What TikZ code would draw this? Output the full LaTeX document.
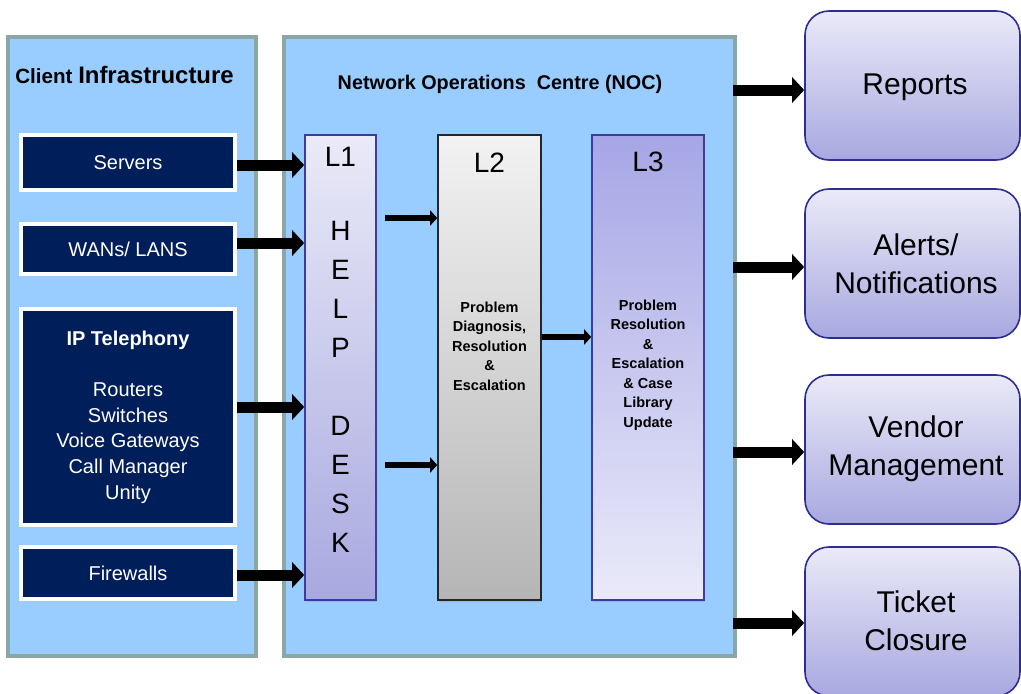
\documentclass[tikz,border=0pt]{standalone}
\usepackage{fontspec}
\setmainfont{Liberation Sans}
\usetikzlibrary{arrows.meta,shadows}

\definecolor{panelfill}{RGB}{153,204,255}
\definecolor{panelline}{RGB}{140,165,165}
\definecolor{navy}{RGB}{0,30,90}
\definecolor{tierline}{RGB}{60,60,160}
\definecolor{outline}{RGB}{46,46,144}
\definecolor{lavtop}{RGB}{234,234,248}
\definecolor{lavbot}{RGB}{168,168,224}
\definecolor{l3top}{RGB}{166,166,230}
\definecolor{l3bot}{RGB}{234,234,250}

\begin{document}
\begin{tikzpicture}[x=1pt,y=-1pt,
  panel/.style={draw=panelline, line width=4pt, fill=panelfill, inner sep=0pt},
  devbox/.style={draw=white, line width=3.5pt, fill=navy, text=white, inner sep=0pt,
    align=center, font=\fontsize{20}{25.7}\selectfont,
    drop shadow={shadow xshift=1pt, shadow yshift=-2pt, opacity=0.3}},
  tier/.style={line width=1.6pt, inner sep=0pt,
    drop shadow={shadow xshift=1pt, shadow yshift=-2pt, opacity=0.3}},
  tierlabel/.style={font=\fontsize{28}{28}\selectfont, inner sep=0pt},
  tiertext/.style={font=\bfseries\fontsize{14.5}{19.5}\selectfont, align=center, inner sep=0pt},
  outbox/.style={draw=outline, line width=1.6pt, rounded corners=24pt,
    top color=lavtop, bottom color=lavbot, inner sep=0pt,
    minimum width=215pt, minimum height=149pt},
  outtext/.style={font=\fontsize{30}{38}\selectfont, align=center, inner sep=0pt},
  bigarrow/.style={line width=11pt, -{Triangle[length=12pt,width=25pt]}},
  smallarrow/.style={line width=6pt, -{Triangle[length=7pt,width=15pt]}}
]
\useasboundingbox (0,0) rectangle (1021,694);
\fill[white] (0,0) rectangle (1021,694);
\clip (0,0) rectangle (1021,694);

% the two background panels
\node[panel, minimum width=248pt, minimum height=619pt] (client) at (132,346.5) {};
\node[panel, minimum width=451pt, minimum height=619pt] (noc) at (509.5,346.5) {};
\node[inner sep=0pt] (clienttitle) at (124.5,75)
  {\bfseries\fontsize{20.6}{20.6}\selectfont Client \fontsize{23.9}{23.9}\selectfont Infrastructure};
\node[inner sep=0pt] (noctitle) at (500,84)
  {\bfseries\fontsize{19.8}{19.8}\selectfont Network Operations\ \ Centre (NOC)};

% client devices
\node[devbox, minimum width=214pt, minimum height=55pt] (servers) at (128,162.5) {Servers};
\node[devbox, minimum width=214pt, minimum height=50pt] (wans) at (128,249) {WANs/ LANS};
\node[devbox, minimum width=214pt, minimum height=216pt] (ipt) at (128,417)
  {\textbf{IP Telephony}\\ \\Routers\\Switches\\Voice Gateways\\Call Manager\\Unity};
\node[devbox, minimum width=214pt, minimum height=52pt] (fw) at (128,573) {Firewalls};

% support tiers
\node[tier, draw=tierline, top color=lavtop, bottom color=lavbot,
  minimum width=71pt, minimum height=465pt] (l1) at (340.5,367.5) {};
\node[tier, draw=black!85, top color=black!5, bottom color=black!29,
  minimum width=103pt, minimum height=465pt] (l2) at (489.5,367.5) {};
\node[tier, draw=tierline, top color=l3top, bottom color=l3bot,
  minimum width=112pt, minimum height=465pt] (l3) at (648,367.5) {};

\node[tierlabel] (l1lab) at (340.5,157) {L1};
\node[tierlabel] (l2lab) at (489.5,163) {L2};
\node[tierlabel] (l3lab) at (648,162) {L3};
\node[font=\fontsize{28}{39}\selectfont, align=center, inner sep=0pt] (helpdesk)
  at (340.5,387) {H\\E\\L\\P\\ \\D\\E\\S\\K};
\node[tiertext] (l2text) at (489.5,346)
  {Problem\\Diagnosis,\\Resolution\\\&\\Escalation};
\node[tiertext] (l3text) at (648,365)
  {Problem\\Resolution\\\&\\Escalation\\\& Case\\Library\\Update};

% outputs
\node[outbox] (reports) at (912.5,85.5) {};
\node[outbox] (alerts) at (912.5,263.5) {};
\node[outbox] (vendor) at (912.5,449.5) {};
\node[outbox] (ticket) at (912.5,621.5) {};
\node[outtext] at (915,87) {Reports};
\node[outtext] at (916,264) {Alerts/\\Notifications};
\node[outtext] at (916,449) {Vendor\\Management};
\node[outtext] at (916,621) {Ticket\\Closure};

% feeds into the help desk
\draw[bigarrow] (servers.east |- 0,165) -- (l1.west |- 0,165);
\draw[bigarrow] (wans.east |- 0,243) -- (l1.west |- 0,243);
\draw[bigarrow] (ipt.east |- 0,407) -- (l1.west |- 0,407);
\draw[bigarrow] (fw.east |- 0,575) -- (l1.west |- 0,575);

% escalation between tiers
\draw[smallarrow] ([xshift=8pt]l1.east |- 0,218) -- (l2.west |- 0,218);
\draw[smallarrow] ([xshift=8pt]l1.east |- 0,465) -- (l2.west |- 0,465);
\draw[smallarrow] (l2.east |- 0,337) -- (l3.west |- 0,337);

% outputs of the NOC
\draw[bigarrow] ([xshift=-4pt]noc.east |- 0,90) -- (reports.west |- 0,90);
\draw[bigarrow] ([xshift=-4pt]noc.east |- 0,267) -- (alerts.west |- 0,267);
\draw[bigarrow] ([xshift=-4pt]noc.east |- 0,452) -- (vendor.west |- 0,452);
\draw[bigarrow] ([xshift=-4pt]noc.east |- 0,623) -- (ticket.west |- 0,623);
\end{tikzpicture}
\end{document}
